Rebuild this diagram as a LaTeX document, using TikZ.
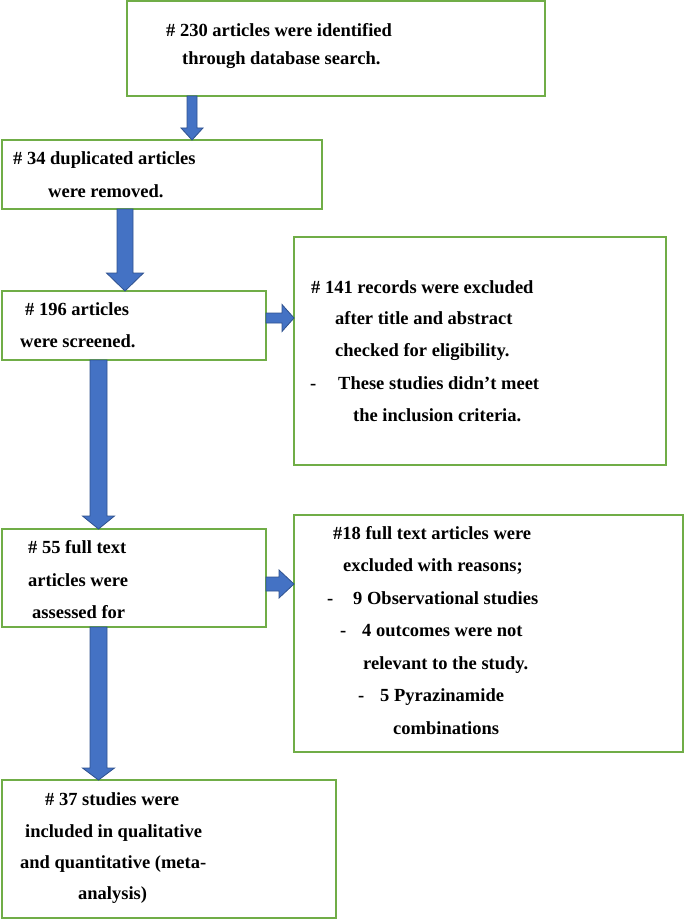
\documentclass[tikz,border=0pt]{standalone}
\usepackage{fontspec}
\setmainfont{Liberation Serif}
\usetikzlibrary{calc}
\definecolor{boxgreen}{HTML}{70AD47}
\definecolor{arrowblue}{HTML}{4472C4}
\definecolor{arrowdark}{HTML}{2F528F}
\tikzset{
  box/.style={draw=boxgreen, line width=1.6pt, fill=white, inner sep=0pt, outer sep=0pt, anchor=north west, rectangle},
  txt/.style={anchor=base west, inner sep=0pt, font=\fontsize{18.5}{22}\selectfont\bfseries},
  vblock/.style n args={3}{draw=arrowdark, fill=arrowblue, line width=0.8pt,
    to path={let \p1=(\tikztostart), \p2=(\tikztotarget) in
      (\x1-#1,\y1) -- (\x1-#1,\y2+#3) -- (\x1-#2,\y2+#3) -- (\x1,\y2) --
      (\x1+#2,\y2+#3) -- (\x1+#1,\y2+#3) -- (\x1+#1,\y1) -- cycle}},
  hblock/.style n args={3}{draw=arrowdark, fill=arrowblue, line width=0.8pt,
    to path={let \p1=(\tikztostart), \p2=(\tikztotarget) in
      (\x1,\y1+#1) -- (\x2-#3,\y1+#1) -- (\x2-#3,\y1+#2) -- (\x2,\y2) --
      (\x2-#3,\y1-#2) -- (\x2-#3,\y1-#1) -- (\x1,\y1-#1) -- cycle}}
}
\begin{document}
\begin{tikzpicture}[x=1pt,y=-1pt]
\useasboundingbox (0,0) rectangle (685,920);
% boxes
\node[box, minimum width=418pt, minimum height=95pt] (b1) at (127,1) {};
\node[box, minimum width=320pt, minimum height=69pt] (b2) at (2,140) {};
\node[box, minimum width=264pt, minimum height=69pt] (b3) at (2,291) {};
\node[box, minimum width=372pt, minimum height=228pt] (b4) at (294,237) {};
\node[box, minimum width=264pt, minimum height=98pt] (b5) at (2,529) {};
\node[box, minimum width=389pt, minimum height=237pt] (b6) at (294,515) {};
\node[box, minimum width=334pt, minimum height=138pt] (b7) at (2,780) {};
% arrows
\draw[vblock={5pt}{11pt}{12pt}] (192,0 |- b1.south) to (192,0 |- b2.north);
\draw[vblock={8pt}{18.5pt}{18pt}] (125,0 |- b2.south) to (125,0 |- b3.north);
\draw[hblock={5pt}{13.5pt}{12pt}] (b3.east |- 0,318) to (b4.west |- 0,318);
\draw[vblock={8.5pt}{16pt}{13pt}] (98.5,0 |- b3.south) to (98.5,0 |- b5.north);
\draw[hblock={7pt}{14pt}{15pt}] (b5.east |- 0,584) to (b6.west |- 0,584);
\draw[vblock={8.5pt}{16pt}{12pt}] (98.5,0 |- b5.south) to (98.5,0 |- b7.north);
% texts box 1
\node[txt] (t1a) at (166,37) {\# 230 articles were identified};
\node[txt] (t1b) at (182,65) {through database search.};
% box 2
\node[txt] (t2a) at (13,165) {\# 34 duplicated articles};
\node[txt] (t2b) at (48,197) {were removed.};
% box 3
\node[txt] (t3a) at (25,315) {\# 196 articles};
\node[txt] (t3b) at (20,347) {were screened.};
% box 4
\node[txt] (t4a) at (311,293) {\# 141 records were excluded};
\node[txt] (t4b) at (335,324) {after title and abstract};
\node[txt] (t4c) at (335,356) {checked for eligibility.};
\node[txt] (t4d) at (310,389) {-};
\node[txt] (t4e) at (338,389) {These studies didn’t meet};
\node[txt] (t4f) at (353,421) {the inclusion criteria.};
% box 5
\node[txt] (t5a) at (28,553) {\# 55 full text};
\node[txt] (t5b) at (28,586) {articles were};
\node[txt] (t5c) at (32,618) {assessed for};
% box 6
\node[txt] (t6a) at (333,539) {\#18 full text articles were};
\node[txt] (t6b) at (343,571) {excluded with reasons;};
\node[txt] (t6c) at (327,604) {-};
\node[txt] (t6d) at (353,604) {9 Observational studies};
\node[txt] (t6e) at (340,636) {-};
\node[txt] (t6f) at (362,636) {4 outcomes were not};
\node[txt] (t6g) at (363,669) {relevant to the study.};
\node[txt] (t6h) at (358,701) {-};
\node[txt] (t6i) at (380,701) {5 Pyrazinamide};
\node[txt] (t6j) at (393,734) {combinations};
% box 7
\node[txt] (t7a) at (45,805) {\# 37 studies were};
\node[txt] (t7b) at (25,837) {included in qualitative};
\node[txt] (t7c) at (20,868) {and quantitative (meta-};
\node[txt] (t7d) at (78,899) {analysis)};
\end{tikzpicture}
\end{document}
